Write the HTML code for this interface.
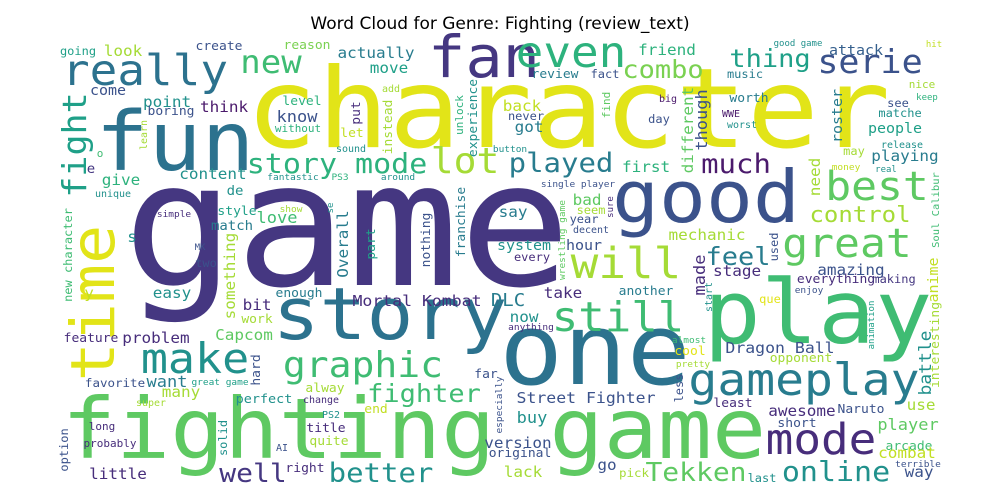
<!DOCTYPE html>
<html>
<head>
<meta charset="utf-8">
<style>
  html,body{margin:0;padding:0;background:#fff;}
  #wrap{width:1000px;height:500px;position:relative;overflow:hidden;}
  svg text.w{font-family:"DejaVu Sans Mono","Liberation Mono",monospace;}
</style>
</head>
<body>
<div id="wrap">
<svg id="cloud" width="1000" height="500" viewBox="0 0 1000 500" xmlns="http://www.w3.org/2000/svg">
  <rect x="0" y="0" width="1000" height="500" fill="#ffffff"/>
  <text x="500" y="29" text-anchor="middle" font-family="DejaVu Sans, Liberation Sans, sans-serif" font-size="17" fill="#000">Word Cloud for Genre: Fighting (review_text)</text>
  <g id="words"></g>
</svg>
</div>
<script>
// palette (viridis)
const C = {P1:'#4b1a6c',P2:'#472d7b',P3:'#453781',B1:'#3b528b',B2:'#355f8d',T1:'#2c728e',T2:'#287c8e',T3:'#21918c',G1:'#1fa088',G2:'#2db27d',G3:'#3fbc73',G4:'#5ec962',G5:'#7ad151',Y1:'#a5db36',Y2:'#c2df23',Y3:'#e2e418'};

// words, font size (weight), colour key
const words = ["game","character","fun","one","play","good","story","fighting game","time","fight","really","new","fan","even","thing","combo","serie","story mode","lot","played","much","best","control","great","will","still","feel","make","graphic","fighter","gameplay","mode","online","Tekken","better","well","Street Fighter","Mortal Kombat","DLC","Dragon Ball",
"going","look","create","reason","actually","move","friend","good game","attack","hit","review","fact","music","nice","keep","see","matche","roster","people","release","playing","may","money","real","Soul Calibur","amazing","anime","everything","making","enjoy","animation","interesting","battle","use","Naruto","player","arcade","combat","awesome","short","terrible","way","go","pick","last","less","least","opponent","cool","almost","pretty","version","original","buy","lack","little","right","option","long","probably","solid","AI","quite","title","PS2","end","change","perfect","super","many","favorite","want","great game","hard","alway","far","especially","feature","problem","Capcom","work","bit","enough","easy","two","MK","y","s","new character","something","Overall","nothing","franchise","part","unique","give","e","o","come","point","boring","learn","think","know","level","add","put","instead","without","let","sound","experience","unlock","button","content","fantastic","PS3","around","de","love","style","match","show","simple","se","back","never","got","find","big","day","different","though","worth","WWE","worst","first","need","single player","bad","seem","sure","say","year","wrestling game","decent","mechanic","used","system","every","hour","made","stage","take","another","que","start","now","anything"];

const fontSizes = [186,119,88,106,95,78,78,90,65,35,46,34,62,46,27,27,35,30,38,29,29,43,24,43,46,44,27,45,38,27,48,46,30,28,29,28,16.5,16.5,19,16.5,
12,16,13,13,16,16,16,9,15,9,13,12,12,11,9,12,12,15,15,10,16,12,9.5,9,10.5,16,15,13,12,9.5,9,13,18,16,13,17,13,16,16,13,9.5,16,16,12.5,12,12,13,13,13,9.5,9.5,16,13,17,16,16,13,12,11,11,12,10,13,13,10,13,10,13.5,10,16,12.5,17,9.5,13,13,13,9.5,13,16,16,13,16,13,16,12,9,16,16,12,16,16,13,13,13,10,16,14,11,15,16,13,10,16,17,13,10,13,13,11,13,10,13,11,9.5,16,9.5,9.5,9.5,14,17,13,14,9.5,9.5,9,16,12,16,11,10,12,16,17,13,10,10,16,16,9.5,16,12,9,16,12,9.5,10,16,12,15,12,15,17,16,16,13,12,10,16,9.5];

const colorKeys = ["P3","Y3","T1","T1","G3","B1","T1","G4","Y3","G1","T1","G3","P3","G2","G1","G5","B1","G2","Y1","T2","P1","G4","Y1","G4","Y1","G3","T2","T3","G3","G3","T2","P2","T3","G4","T3","P3","B1","P2","T2","B1",
"G1","Y1","B1","G5","T2","G1","G2","T3","B2","Y2","T2","B1","T2","Y1","G2","B1","T3","T2","G1","T3","T2","Y1","Y2","T3","G3","B1","Y2","P2","P3","B1","G1","Y1","T3","Y1","B1","G4","G3","Y2","P2","B1","B1","B1","B1","Y1","T3","B1","P2","Y1","Y3","G3","Y1","B1","B1","T3","Y1","P2","P2","B1","P2","P2","T3","B1","Y1","P2","T3","Y2","P2","T3","Y1","Y1","B1","T2","G1","B1","Y1","B1","B1","P2","P2","G4","Y1","P2","T2","T3","B1","B1","Y2","T3","G3","Y1","T2","B1","T2","G1","T3","G2","P3","G3","B1","T3","B1","Y1","P1","B1","G2","Y1","P2","Y1","G2","Y2","T3","T3","G2","T3","T3","T3","G2","T3","T3","G3","G1","T2","Y1","P2","T3","Y2","B1","T2","G4","P1","B1","G4","B1","T2","P1","T3","G2","Y1","B1","G4","Y1","P2","T2","B1","G4","B1","Y1","B1","T3","P2","B1","P2","P2","P2","T2","Y3","T3","T3","P2"];

// layout: [anchor x (centre, or baseline x when vertical), baseline y (or centre y when vertical), vertical flag]
const layout = [[347,285,0],[568,147,0],[175,170,0],[595,384,0],[818,343,0],[706,222,0],[390,339,0],[414,458,0],[114,303,1],[86,145,1],[145,85,0],[271,73,0],[484,77,0],[571,67,0],[770,67,0],[663,78,0],[870,73,0],[337,173,0],[465,173,0],[561,172,0],[736,173,0],[877,200,0],[860,222,0],[847,257,0],[626,278,0],[618,331,0],[738,265,0],[195,373,0],[363,377,0],[424,402,0],[804,395,0],[821,454,0],[836,481,0],[696,481,0],[381,482,0],[253,482,0],[586,403,0],[417,306,0],[508,306,0],[780,353,0],
[78,55,0],[123,56,0],[219,50,0],[307,49,0],[376,58,0],[389,73,0],[667,55,0],[798,46,0],[856,55,0],[934,47,0],[555,78,0],[605,78,0],[745,78,0],[922,88,0],[927,100,0],[898,107,0],[900,117,0],[842,116,1],[895,133,0],[902,148,0],[905,161,0],[854,155,0],[846,170,0],[886,172,0],[939,210,1],[851,275,0],[938,280,1],[836,283,0],[894,283,0],[809,293,0],[874,325,1],[939,345,1],[931,363,1],[921,410,0],[861,413,0],[908,430,0],[909,450,0],[907,458,0],[802,416,0],[797,427,0],[918,467,0],[919,477,0],[607,470,0],[634,477,0],[762,482,0],[683,388,1],[733,407,0],[801,362,0],[690,355,0],[689,343,0],[693,367,0],[518,448,0],[520,457,0],[532,423,0],[523,477,0],[118,479,0],[305,472,0],[68,450,1],[102,430,0],[110,447,0],[227,438,1],[282,451,0],[329,445,0],[326,432,0],[331,418,0],[376,413,0],[321,403,0],[264,403,0],[151,406,0],[181,397,0],[115,387,0],[167,387,0],[220,385,0],[260,370,1],[325,392,0],[486,378,0],[502,405,1],[91,342,0],[156,343,0],[244,340,0],[257,323,0],[257,310,0],[299,297,0],[172,298,0],[206,267,0],[200,250,0],[89,298,0],[132,242,0],[72,255,1],[235,276,1],[348,244,1],[430,240,1],[465,222,1],[375,244,1],[113,197,0],[121,185,0],[91,173,0],[100,157,0],[108,95,0],[167,107,0],[171,115,0],[147,135,1],[224,112,0],[297,122,0],[302,105,0],[391,92,0],[360,113,1],[392,127,1],[298,132,0],[352,137,0],[351,152,0],[477,118,1],[463,115,1],[510,152,0],[213,179,0],[293,180,0],[340,180,0],[398,180,0],[235,195,0],[277,223,0],[237,215,0],[232,230,0],[291,212,0],[174,217,0],[333,208,1],[522,111,0],[526,120,0],[529,132,0],[610,105,1],[668,102,0],[659,123,0],[693,130,1],[707,120,1],[749,102,0],[731,117,0],[742,128,0],[646,172,0],[820,177,1],[578,187,0],[587,205,0],[591,214,0],[613,207,1],[513,217,0],[584,223,0],[565,240,1],[591,233,0],[707,240,0],[778,247,1],[524,250,0],[532,261,0],[584,250,0],[705,275,1],[737,276,0],[563,298,0],[646,295,0],[770,303,0],[712,297,1],[524,322,0],[531,330,0]];

const NS = 'http://www.w3.org/2000/svg';
const layer = document.getElementById('words');
const SQ = 0.93; // vertical glyph squash to match reference font proportions
for (let i = 0; i < words.length; i++) {
  const L = layout[i];
  if (!L) continue;
  const el = document.createElementNS(NS, 'text');
  el.setAttribute('class', 'w');
  el.setAttribute('text-anchor', 'middle');
  el.setAttribute('font-size', fontSizes[i]);
  el.setAttribute('fill', C[colorKeys[i]] || '#3b528b');
  el.setAttribute('x', 0);
  el.setAttribute('y', 0);
  if (L[2]) {
    el.setAttribute('transform', 'translate(' + L[0] + ',' + L[1] + ') rotate(-90) scale(1,' + SQ + ')');
  } else {
    el.setAttribute('transform', 'translate(' + L[0] + ',' + L[1] + ') scale(1,' + SQ + ')');
  }
  el.textContent = words[i];
  
  
  layer.appendChild(el);
}
</script>
</body>
</html>
